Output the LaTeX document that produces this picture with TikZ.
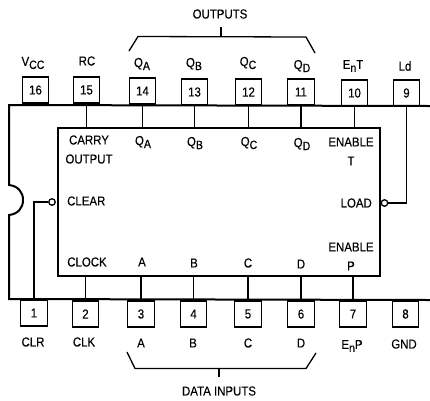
\documentclass[tikz,border=0pt]{standalone}
\usepackage{fontspec}
\setmainfont[FakeStretch=0.88,FakeBold=0.25]{Liberation Sans}
\usetikzlibrary{positioning,calc}
\newcommand{\lowsub}[1]{\raisebox{-3pt}{\fontsize{12}{13}\selectfont #1}}
\tikzset{
    pinbox/.style={draw,line width=1.4pt,minimum width=26.5pt,minimum height=26pt,inner sep=0pt,font=\fontsize{13}{14}\selectfont},
    txt/.style={inner sep=0pt,font=\fontsize{13}{14}\selectfont},
    lead/.style={line width=1.3pt},
    bubble/.style={draw,circle,fill=white,line width=1.3pt,minimum size=6.5pt,inner sep=0pt},
}
\begin{document}
\begin{tikzpicture}[x=1pt,y=-1pt]
        \useasboundingbox (0,0) rectangle (430,400);
        % package outline
        \coordinate (tl) at (9,105);
        \coordinate (tr) at (430,106);
        \coordinate (bl) at (9,299);
        \coordinate (br) at (430,300);
        \draw[line width=2pt] (tr) -- (tl) -- (9,185) .. controls (18,186) and (23,192) .. (23,200) .. controls (23,208) and (18,214) .. (9,215) -- (bl) -- (br);
        % chip body
        \node[draw,line width=1.4pt,minimum width=322pt,minimum height=148pt,inner sep=0pt] (core) at (219,202) {};
        % upper pins
        \node[pinbox] (p16) at (35.5,90) {16};
        \node[pinbox] (p15) at (86.5,90) {15};
        \node[pinbox] (p14) at (142.5,91) {14};
        \node[pinbox] (p13) at (194.5,92) {13};
        \node[pinbox] (p12) at (248.5,92) {12};
        \node[pinbox] (p11) at (301,92) {11};
        \node[pinbox] (p10) at (354.5,93) {10};
        \node[pinbox] (p9) at (406.5,93) {9};
        % lower pins
        \node[pinbox] (p1) at (34,313) {1};
        \node[pinbox] (p2) at (85.5,314) {2};
        \node[pinbox] (p3) at (141,314) {3};
        \node[pinbox] (p4) at (193.5,314) {4};
        \node[pinbox] (p5) at (248,314) {5};
        \node[pinbox] (p6) at (301,314) {6};
        \node[pinbox] (p7) at (353,314) {7};
        \node[pinbox] (p8) at (405.5,314) {8};
        % upper leads
        \draw[lead] (p15.south) -- (p15.south |- core.north);
        \draw[lead] (p14.south) -- (p14.south |- core.north);
        \draw[lead] (p13.south) -- (p13.south |- core.north);
        \draw[lead] (p12.south) -- (p12.south |- core.north);
        \draw[lead] (p11.south) -- (p11.south |- core.north);
        \draw[lead] (p10.south) -- (p10.south |- core.north);
        % lower leads
        \draw[lead] (p2.north) -- (p2.north |- core.south);
        \draw[lead] (p3.north) -- (p3.north |- core.south);
        \draw[lead] (p4.north) -- (p4.north |- core.south);
        \draw[lead] (p5.north) -- (p5.north |- core.south);
        \draw[lead] (p6.north) -- (p6.north |- core.south);
        \draw[lead] (p7.north) -- (p7.north |- core.south);
        % clear and load
        \node[bubble] (clrb) at (52,202) {};
        \node[bubble] (ldb) at (384.5,203) {};
        \draw[lead] (clrb) -| (p1.north);
        \draw[lead] (ldb) -| (p9.south);
        % pin names
        \node[txt] (vcc) at (33,63) {V\lowsub{CC}};
        \node[txt] (rc) at (87,61) {RC};
        \node[txt] (qa) at (142,64) {Q\lowsub{A}};
        \node[txt] (qb) at (194,64) {Q\lowsub{B}};
        \node[txt] (qc) at (248,63) {Q\lowsub{C}};
        \node[txt] (qd) at (302,66) {Q\lowsub{D}};
        \node[txt] (ent) at (353,66) {E\lowsub{n}T};
        \node[txt] (ld) at (405,66) {Ld};
        \node[txt] (clr) at (33,342) {CLR};
        \node[txt] (clk) at (84,342) {CLK};
        \node[txt] (ina) at (141,343) {A};
        \node[txt] (inb) at (193,343) {B};
        \node[txt] (inc) at (248,343) {C};
        \node[txt] (ind) at (301,343) {D};
        \node[txt] (enp) at (352,346) {E\lowsub{n}P};
        \node[txt] (gnd) at (404,344) {GND};
        % names inside the chip
        \node[txt] (carry) at (89,140) {CARRY};
        \node[txt] (cout) at (89,159) {OUTPUT};
        \node[txt] (iqa) at (143,142) {Q\lowsub{A}};
        \node[txt] (iqb) at (195,143) {Q\lowsub{B}};
        \node[txt] (iqc) at (249,143) {Q\lowsub{C}};
        \node[txt] (iqd) at (302,144) {Q\lowsub{D}};
        \node[txt] (ent1) at (351,142) {ENABLE};
        \node[txt] (ent2) at (351,161) {T};
        \node[txt,anchor=west] (clear) at (67,201) {CLEAR};
        \node[txt,anchor=east] (load) at (372,203) {LOAD};
        \node[txt] (clock) at (87,262) {CLOCK};
        \node[txt] (ia) at (142,262) {A};
        \node[txt] (ib) at (194,263) {B};
        \node[txt] (ic) at (248,263) {C};
        \node[txt] (id) at (301,264) {D};
        \node[txt] (enp1) at (351,247) {ENABLE};
        \node[txt] (enp2) at (351,266) {P};
        % braces
        \node[txt] (outs) at (220,14) {OUTPUTS};
        \node[txt] (dins) at (219,391) {DATA INPUTS};
        \coordinate (ot) at (221,36.5);
        \coordinate (ottop) at (221,27);
        \coordinate (it) at (219,368.5);
        \coordinate (itend) at (219,377);
        \draw[lead] (129,51) -- (138,36.5) -- (306,37) -- (315,53);
        \draw[lead] (ottop) -- (ot);
        \draw[lead] (127,352) -- (135,368.5) -- (306,368.5) -- (316,353);
        \draw[lead] (it) -- (itend);
\end{tikzpicture}
\end{document}
